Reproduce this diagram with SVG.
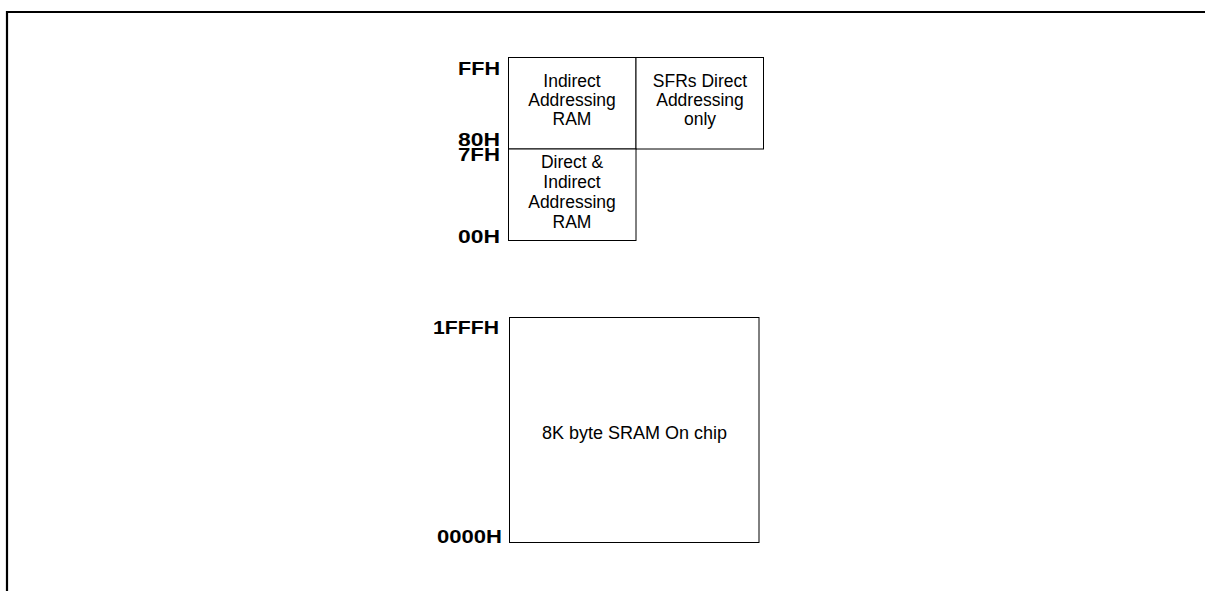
<svg xmlns="http://www.w3.org/2000/svg" width="1205" height="591" viewBox="0 0 1205 591">
<style>
.frame{fill:none;stroke:#000;stroke-width:2.2}
.box{fill:#fff;stroke:#000;stroke-width:1}
.lbl{font-family:"Liberation Sans",Arial,sans-serif;font-weight:bold;font-size:19px;fill:#000;text-anchor:end}
.txt{font-family:"Liberation Sans",Arial,sans-serif;font-size:17.5px;fill:#000;text-anchor:middle}
</style>
<rect width="1205" height="591" fill="#fff"/>
<path class="frame" d="M7,591 V12 H1205"/>
<g id="upper-indirect">
<rect class="box" x="508.5" y="57.5" width="127.5" height="91.5"/>
<text class="txt" x="572" y="87">Indirect</text>
<text class="txt" x="572" y="106">Addressing</text>
<text class="txt" x="572" y="125">RAM</text>
</g>
<g id="sfr">
<rect class="box" x="636" y="57.5" width="127.5" height="91.5"/>
<text class="txt" x="700" y="87">SFRs Direct</text>
<text class="txt" x="700" y="106">Addressing</text>
<text class="txt" x="700" y="125">only</text>
</g>
<g id="lower-direct">
<rect class="box" x="508.5" y="149" width="127.5" height="91.5"/>
<text class="txt" x="572" y="168">Direct &amp;</text>
<text class="txt" x="572" y="188">Indirect</text>
<text class="txt" x="572" y="208">Addressing</text>
<text class="txt" x="572" y="228">RAM</text>
</g>
<g id="sram">
<rect class="box" x="509.5" y="317.5" width="249.5" height="225"/>
<text class="txt" x="634.5" y="439" style="font-size:18px">8K byte SRAM On chip</text>
</g>
<g id="labels">
<text class="lbl" x="500" y="74.5" textLength="42" lengthAdjust="spacingAndGlyphs">FFH</text>
<text class="lbl" x="500" y="146" textLength="42" lengthAdjust="spacingAndGlyphs">80H</text>
<text class="lbl" x="500" y="160.5" textLength="42" lengthAdjust="spacingAndGlyphs">7FH</text>
<text class="lbl" x="500" y="242.5" textLength="42" lengthAdjust="spacingAndGlyphs">00H</text>
<text class="lbl" x="499" y="333.5" textLength="66" lengthAdjust="spacingAndGlyphs">1FFFH</text>
<text class="lbl" x="502" y="543" textLength="65" lengthAdjust="spacingAndGlyphs">0000H</text>
</g>
<g id="connectors"></g>
</svg>
